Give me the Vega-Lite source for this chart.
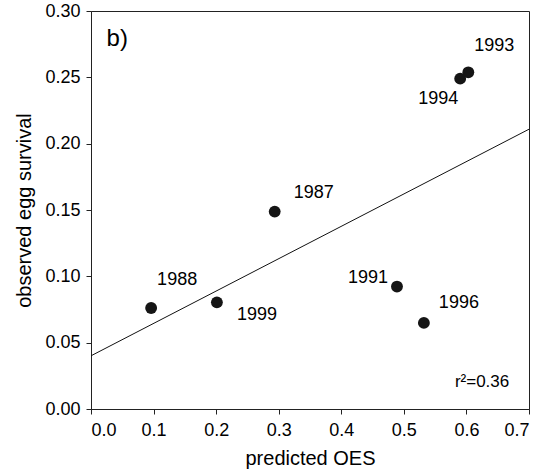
{
  "$schema": "https://vega.github.io/schema/vega-lite/v6.json",
  "width": 438,
  "height": 398,
  "autosize": {"type": "none"},
  "padding": {"left": 91, "top": 11, "right": 23, "bottom": 66},
  "background": "white",
  "config": {
    "font": "Liberation Sans",
    "view": {"stroke": "#222", "strokeWidth": 1},
    "axis": {
      "grid": false,
      "domainColor": "#222",
      "tickColor": "#222",
      "tickSize": 5,
      "labelColor": "#000",
      "titleColor": "#000",
      "labelFont": "Liberation Sans",
      "titleFont": "Liberation Sans",
      "labelFontSize": 18,
      "titleFontSize": 20,
      "titleFontWeight": "normal"
    }
  },
  "datasets": {
    "pts": [
      {"year": "1988", "oes": 0.0961, "surv": 0.0761},
      {"year": "1999", "oes": 0.2012, "surv": 0.0804},
      {"year": "1987", "oes": 0.2936, "surv": 0.1488},
      {"year": "1991", "oes": 0.489, "surv": 0.0923},
      {"year": "1996", "oes": 0.532, "surv": 0.0649},
      {"year": "1994", "oes": 0.590, "surv": 0.249},
      {"year": "1993", "oes": 0.603, "surv": 0.2538}
    ],
    "fit": [
      {"oes": 0.0, "surv": 0.0401},
      {"oes": 0.7, "surv": 0.2109}
    ],
    "notes": [
      {"t": "b)", "oes": 0.042, "surv": 0.279, "kind": "panel"},
      {"t": "r²=0.36", "oes": 0.625, "surv": 0.020, "kind": "r2"}
    ]
  },
  "layer": [
    {
      "data": {"name": "fit"},
      "mark": {"type": "line", "color": "#111", "strokeWidth": 1, "clip": true},
      "encoding": {
        "x": {"field": "oes", "type": "quantitative", "scale": {"domain": [0, 0.7], "nice": false},
          "axis": {"values": [0, 0.1, 0.2, 0.3, 0.4, 0.5, 0.6, 0.7], "format": ".1f", "labelPadding": 7, "title": "predicted OES", "titlePadding": 9}},
        "y": {"field": "surv", "type": "quantitative", "scale": {"domain": [0, 0.3], "nice": false},
          "axis": {"values": [0, 0.05, 0.1, 0.15, 0.2, 0.25, 0.3], "format": ".2f", "labelPadding": 6, "title": "observed egg survival", "titlePadding": 10}}
      }
    },
    {
      "data": {"name": "pts"},
      "mark": {"type": "circle", "size": 140, "color": "#151515", "opacity": 1},
      "encoding": {
        "x": {"field": "oes", "type": "quantitative"},
        "y": {"field": "surv", "type": "quantitative"}
      }
    },
    {"data": {"name": "pts"}, "transform": [{"filter": "datum.year == '1988'"}],
      "mark": {"type": "text", "fontSize": 18, "color": "#000", "dx": 26, "dy": -28, "align": "center", "baseline": "middle"},
      "encoding": {"x": {"field": "oes", "type": "quantitative"}, "y": {"field": "surv", "type": "quantitative"}, "text": {"field": "year"}}},
    {"data": {"name": "pts"}, "transform": [{"filter": "datum.year == '1999'"}],
      "mark": {"type": "text", "fontSize": 18, "color": "#000", "dx": 40, "dy": 13, "align": "center", "baseline": "middle"},
      "encoding": {"x": {"field": "oes", "type": "quantitative"}, "y": {"field": "surv", "type": "quantitative"}, "text": {"field": "year"}}},
    {"data": {"name": "pts"}, "transform": [{"filter": "datum.year == '1987'"}],
      "mark": {"type": "text", "fontSize": 18, "color": "#000", "dx": 39, "dy": -19, "align": "center", "baseline": "middle"},
      "encoding": {"x": {"field": "oes", "type": "quantitative"}, "y": {"field": "surv", "type": "quantitative"}, "text": {"field": "year"}}},
    {"data": {"name": "pts"}, "transform": [{"filter": "datum.year == '1991'"}],
      "mark": {"type": "text", "fontSize": 18, "color": "#000", "dx": -29, "dy": -9, "align": "center", "baseline": "middle"},
      "encoding": {"x": {"field": "oes", "type": "quantitative"}, "y": {"field": "surv", "type": "quantitative"}, "text": {"field": "year"}}},
    {"data": {"name": "pts"}, "transform": [{"filter": "datum.year == '1996'"}],
      "mark": {"type": "text", "fontSize": 18, "color": "#000", "dx": 35, "dy": -20, "align": "center", "baseline": "middle"},
      "encoding": {"x": {"field": "oes", "type": "quantitative"}, "y": {"field": "surv", "type": "quantitative"}, "text": {"field": "year"}}},
    {"data": {"name": "pts"}, "transform": [{"filter": "datum.year == '1993'"}],
      "mark": {"type": "text", "fontSize": 18, "color": "#000", "dx": 26, "dy": -26, "align": "center", "baseline": "middle"},
      "encoding": {"x": {"field": "oes", "type": "quantitative"}, "y": {"field": "surv", "type": "quantitative"}, "text": {"field": "year"}}},
    {"data": {"name": "pts"}, "transform": [{"filter": "datum.year == '1994'"}],
      "mark": {"type": "text", "fontSize": 18, "color": "#000", "dx": -22, "dy": 20, "align": "center", "baseline": "middle"},
      "encoding": {"x": {"field": "oes", "type": "quantitative"}, "y": {"field": "surv", "type": "quantitative"}, "text": {"field": "year"}}},
    {"data": {"name": "notes"}, "transform": [{"filter": "datum.kind == 'panel'"}],
      "mark": {"type": "text", "fontSize": 24, "color": "#000", "align": "center", "baseline": "middle"},
      "encoding": {"x": {"field": "oes", "type": "quantitative"}, "y": {"field": "surv", "type": "quantitative"}, "text": {"field": "t"}}},
    {"data": {"name": "notes"}, "transform": [{"filter": "datum.kind == 'r2'"}],
      "mark": {"type": "text", "fontSize": 17, "color": "#000", "align": "center", "baseline": "middle"},
      "encoding": {"x": {"field": "oes", "type": "quantitative"}, "y": {"field": "surv", "type": "quantitative"}, "text": {"field": "t"}}}
  ]
}
